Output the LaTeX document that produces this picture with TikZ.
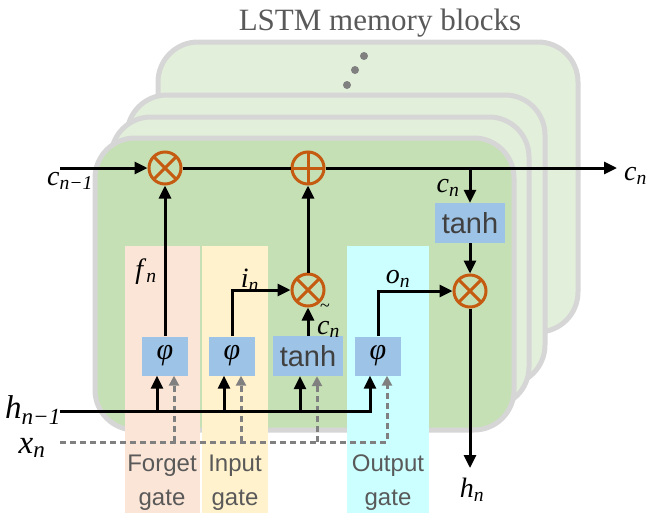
\documentclass[tikz,border=0pt]{standalone}
\usepackage{xcolor}
\usepackage{fontspec}
\setmainfont{Liberation Serif}
\setsansfont{Liberation Sans}
\usepackage{tikz}
\usetikzlibrary{arrows.meta, positioning, calc}

\definecolor{frontgreen}{HTML}{C5E0B4}
\definecolor{backgreen}{HTML}{E2EFDA}
\definecolor{bordergray}{HTML}{D6D6D6}
\definecolor{forgetcol}{HTML}{FBE5D6}
\definecolor{inputcol}{HTML}{FFF2CC}
\definecolor{outputcol}{HTML}{CCFFFF}
\definecolor{boxblue}{HTML}{9DC3E6}
\definecolor{opcolor}{HTML}{C55A11}
\definecolor{dashgray}{HTML}{808080}
\definecolor{textgray}{HTML}{404040}
\definecolor{titlegray}{HTML}{595959}

% italic symbol with italic subscript
\newcommand{\isym}[2]{\textit{#1}\textsubscript{\textit{#2}}}

\begin{document}
\begin{tikzpicture}[x=1pt, y=-1pt,
    % Block styles
    block/.style={draw=bordergray, line width=5pt, rounded corners=40pt},
    gatebox/.style={rectangle, fill=boxblue, minimum width=46pt, minimum height=39pt, inner sep=0pt, font=\itshape\fontsize{30}{30}\selectfont},
    tanhbox/.style={gatebox, minimum width=70pt, minimum height=40pt, text=textgray, font=\sffamily\fontsize{29}{29}\selectfont},
    opnode/.style={circle, draw=opcolor, line width=3pt, minimum size=32pt, inner sep=0pt},
    mulop/.style={opnode, path picture={\draw[opcolor, line width=3pt]
        (path picture bounding box.north west) -- (path picture bounding box.south east)
        (path picture bounding box.north east) -- (path picture bounding box.south west);}},
    addop/.style={opnode, path picture={\draw[opcolor, line width=3pt]
        (path picture bounding box.north) -- (path picture bounding box.south)
        (path picture bounding box.west) -- (path picture bounding box.east);}},
    gatetext/.style={font=\sffamily\fontsize{24}{34}\selectfont, text=titlegray, align=center},
    mathlabel/.style={font=\fontsize{28}{28}\selectfont, inner sep=0pt},
    biglabel/.style={font=\fontsize{33}{33}\selectfont, inner sep=0pt},
    wire/.style={line width=3pt},
    arrow/.style={-{Triangle[length=13pt, width=12pt]}, line width=3pt},
    dasharrow/.style={-{Triangle[length=10pt, width=10pt]}, line width=3pt, dashgray, dash pattern=on 6pt off 4pt}
]
\useasboundingbox (0,0) rectangle (648,515);

% Title and memory blocks
\node[font=\fontsize{31}{31}\selectfont, text=titlegray, anchor=base] (title) at (380,30) {LSTM memory blocks};
\draw[block, fill=backgreen] (158,42) rectangle (578,332);
\draw[block, fill=backgreen] (127,95) rectangle (545,385);
\draw[block, fill=backgreen] (111,117) rectangle (529,407);
\draw[block, fill=frontgreen] (95,138) rectangle (514,430);
\fill[dashgray] (364,56) circle (4pt) (355,70) circle (4pt) (347,85) circle (4pt);

% Gate strips
\fill[forgetcol] (125,246) rectangle (200,513);
\fill[inputcol] (202,246) rectangle (268,513);
\fill[outputcol] (347,246) rectangle (429,513);

% Boxes and operators
\node[gatebox] (phif) at (165,356) {φ};
\node[gatebox] (phii) at (232,356) {φ};
\node[tanhbox] (tanhc) at (308,356) {tanh};
\node[gatebox] (phio) at (378,356) {φ};
\node[tanhbox] (tanhh) at (470,223) {tanh};

\node[mulop] (mulf) at (165,168) {};
\node[addop] (addc) at (308,168) {};
\node[mulop] (muli) at (308,290) {};
\node[mulop] (mulo) at (470,291) {};

% Free ends
\coordinate (cin) at (60,168);
\coordinate (cout) at (617,168);
\coordinate (split) at (470,168);
\coordinate (hin) at (60,411);
\coordinate (xin) at (60,442);
\coordinate (hout) at (470,468);

% Cell state
\draw[arrow] (cin) -- (mulf);
\draw[wire] (mulf) -- (addc);
\draw[arrow] (addc) -- (cout);
\draw[arrow] (split) -- (tanhh);
\draw[arrow] (tanhh) -- (mulo);
\draw[arrow] (mulo) -- (hout);

% Gate outputs
\draw[arrow] (phif) -- (mulf);
\draw[arrow] (phii.north) |- (muli);
\draw[arrow] (tanhc) -- (muli);
\draw[arrow] (muli) -- (addc);
\draw[arrow] (phio.north) |- (mulo);

% Inputs h and x
\foreach \b in {phif,phii,tanhc} {
  \draw[dasharrow] ([xshift=9pt]\b.south |- xin) -- ([xshift=9pt]\b.south);
}
\draw[dasharrow] (xin) -| ([xshift=9pt]phio.south);
\foreach \b in {phif,phii,tanhc} {
  \draw[arrow] ([xshift=-8pt]\b.south |- hin) -- ([xshift=-8pt]\b.south);
}
\draw[arrow] (hin) -| ([xshift=-8pt]phio.south);

% Labels
\node[mathlabel] (lcin) at (70,181) {\isym{c}{n−1}};
\node[mathlabel, anchor=west] (lcout) at (624,176) {\isym{c}{n}};
\node[mathlabel] (lcn) at (448,188) {\isym{c}{n}};
\node[mathlabel] (lf) at (146,272) {\isym{f}{n}};
\node[mathlabel] (li) at (250,280) {\isym{i}{n}};
\node[mathlabel] (lo) at (398,279) {\isym{o}{n}};
\node[mathlabel, anchor=base west] (lct) at (317,334)
  {\rlap{\raisebox{23pt}[0pt][0pt]{\fontsize{18}{18}\selectfont\,\textasciitilde}}\isym{c}{n}};
\node[biglabel] (lhin) at (33,410) {\isym{h}{n−1}};
\node[biglabel] (lxin) at (32,448) {\isym{x}{n}};
\node[mathlabel] (lhout) at (472,490) {\isym{h}{n}};

\node[gatetext] (gf) at (162,483) {Forget\\gate};
\node[gatetext] (gi) at (235,483) {Input\\gate};
\node[gatetext] (go) at (388,483) {Output\\gate};

\end{tikzpicture}
\end{document}
